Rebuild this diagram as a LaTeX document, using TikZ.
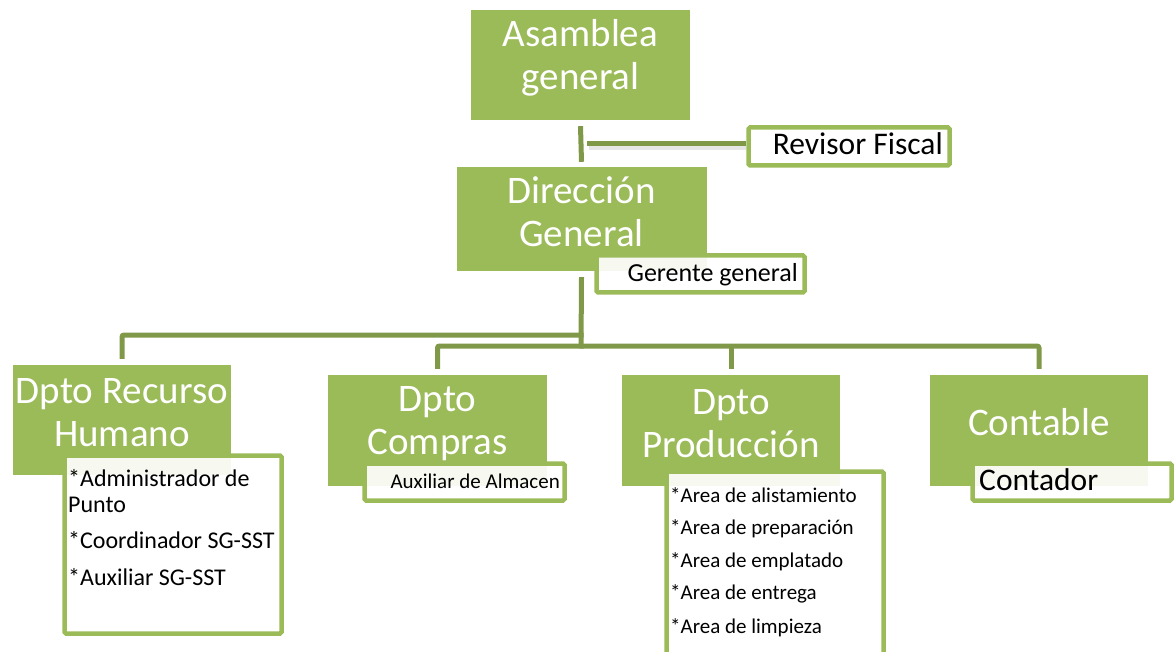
\documentclass[tikz,border=0pt]{standalone}
\usepackage{fontspec}
\setmainfont{Carlito}

\definecolor{boxgreen}{RGB}{155,187,89}
\definecolor{linegreen}{RGB}{128,153,73}

\tikzset{
  title/.style={fill=boxgreen, inner sep=0pt},
  titletext/.style={text=white, align=center, inner sep=0pt,
    font=\fontsize{39}{43}\selectfont},
  subbox/.style={draw=boxgreen, line width=4.5pt, fill=white, fill opacity=0.92,
    rounded corners=1.5pt, inner sep=0pt},
  link/.style={draw=linegreen, line width=5pt, rounded corners=2pt},
  linkshadow/.style={draw=gray, opacity=0.2, line width=4pt},
  bigtext/.style={inner sep=0pt, font=\fontsize{31.5}{36}\selectfont},
  listtext/.style={anchor=base west, inner sep=0pt, font=\fontsize{21}{25}\selectfont},
  rhtext/.style={anchor=base west, inner sep=0pt, font=\fontsize{24}{28}\selectfont},
}

\begin{document}
\begin{tikzpicture}[x=1pt,y=-1pt]
\useasboundingbox (0,0) rectangle (1175,652);

% upper part
\node[title, minimum width=219, minimum height=110] (asamblea) at (580.5,65) {};
\node[title, minimum width=250, minimum height=104] (direccion) at (581.5,219) {};
\node[titletext] (asamblea-txt) at ([yshift=7pt]asamblea.center) {Asamblea\\general};
\node[titletext] (direccion-txt) at ([yshift=7pt]direccion.center) {Dirección\\General};
\node[subbox, minimum width=201, minimum height=38] (revisor) at (849,146.5) {};
\node[subbox, minimum width=208, minimum height=37] (gerente) at (700.5,274) {};
\node[bigtext, anchor=base east] (revisor-txt) at (943,155) {Revisor Fiscal};
\node[inner sep=0pt, anchor=base east, font=\fontsize{26}{30}\selectfont] (gerente-txt) at (798,282) {Gerente general};

\coordinate (split) at (581,144);
\coordinate (bus1) at (581,335);
\coordinate (bus2) at (581,346);

\draw[link] ([yshift=-6pt]asamblea.south) -- ([yshift=5pt]direccion.north);
\draw[linkshadow] ([xshift=8pt,yshift=-4pt]split) -- ([yshift=-4pt]split -| revisor.west);
\draw[link] ([xshift=6pt]split) -- (split -| revisor.west);

% departments
\node[title, minimum width=218, minimum height=110] (rh) at (122,420) {};
\node[title, minimum width=219, minimum height=111] (compras) at (437.5,430.5) {};
\node[title, minimum width=218, minimum height=111] (produccion) at (731,430.5) {};
\node[title, minimum width=218, minimum height=111] (contable) at (1039,430.5) {};
\node[titletext] (rh-txt) at ([yshift=7pt]rh.center) {Dpto Recurso\\Humano};
\node[titletext] (compras-txt) at ([yshift=7pt]compras.center) {Dpto\\Compras};
\node[titletext] (produccion-txt) at ([yshift=7pt]produccion.center) {Dpto\\Producción};
\node[titletext] (contable-txt) at ([yshift=8pt]contable.center) {Contable};

\draw[link] ([yshift=-6pt]direccion.south) -- ([yshift=-2.5pt]bus2);
\draw[link] ([xshift=2.5pt]bus1) -| ([yshift=6pt]rh.north);
\draw[link] ([yshift=6pt]compras.north) |- (bus2) -| ([yshift=6pt]contable.north);
\draw[link] (bus2 -| produccion.north) -- ([yshift=6pt]produccion.north);

\node[subbox, minimum width=217, minimum height=178] (rh-sub) at (173,544.5) {};
\node[subbox, minimum width=200, minimum height=37] (compras-sub) at (464.5,482) {};
\node[subbox, minimum width=217, minimum height=191] (produccion-sub) at (775,567) {};
\node[subbox, minimum width=199, minimum height=37] (contable-sub) at (1072,482) {};

\node[rhtext] (rh-1) at (68,486) {*Administrador de};
\node[rhtext] (rh-2) at (68,512) {Punto};
\node[rhtext] (rh-3) at (68,548) {*Coordinador SG-SST};
\node[rhtext] (rh-4) at (68,585) {*Auxiliar SG-SST};

\node[inner sep=0pt, anchor=base east, font=\fontsize{21}{25}\selectfont] (aux-txt) at (560,488) {Auxiliar de Almacen};

\node[listtext] (prod-1) at (670,502) {*Area de alistamiento};
\node[listtext] (prod-2) at (670,534) {*Area de preparación};
\node[listtext] (prod-3) at (670,567) {*Area de emplatado};
\node[listtext] (prod-4) at (670,599) {*Area de entrega};
\node[listtext] (prod-5) at (670,633) {*Area de limpieza};

\node[bigtext, anchor=base west] (contador-txt) at (979,490) {Contador};
\end{tikzpicture}
\end{document}
